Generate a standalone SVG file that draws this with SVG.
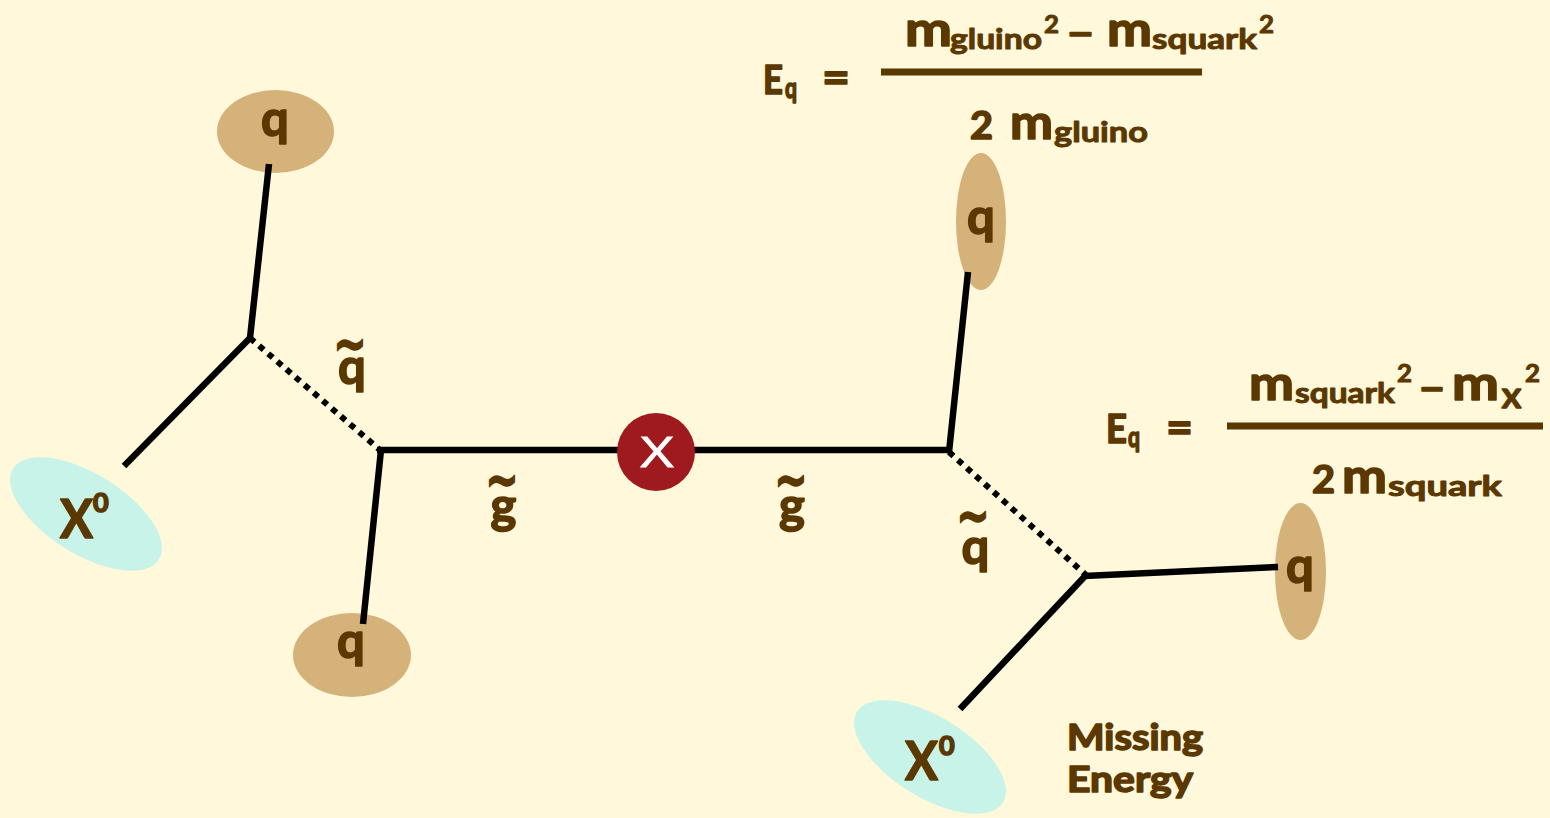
<svg xmlns="http://www.w3.org/2000/svg" width="1550" height="818" viewBox="0 0 1550 818">
<defs>
<style>
.t{font-family:"Lato","Open Sans","Liberation Sans",sans-serif;font-weight:700;fill:#5B3800;stroke:#5B3800;stroke-width:1.6;stroke-linejoin:round}
.q{font-size:49px;text-anchor:middle}
.tl{font-family:"DejaVu Sans","Open Sans",sans-serif;font-size:42px;text-anchor:middle;stroke-width:1.2}
.ln{stroke:#000;stroke-width:6.5;fill:none}
.dot{stroke:#000;stroke-width:6;fill:none;stroke-dasharray:6 6}
.qe{fill:#D4B27A}
.xe{fill:#C8F3E8}
.bar{stroke:#5B3800;stroke-width:7}
.m{font-size:48px}
.sb{font-size:29px;stroke-width:1}
.sp{font-size:25px;stroke-width:1}
</style>
</defs>
<rect x="0" y="0" width="1550" height="818" fill="#FFF8DA"/>

<g id="q1"><ellipse class="qe" cx="275.5" cy="131.5" rx="58.5" ry="41.5"/><text class="t q" x="275" y="136">q</text></g>
<g id="q2"><ellipse class="qe" cx="352" cy="655" rx="59" ry="42"/><text class="t q" x="351" y="658">q</text></g>
<g id="q3"><ellipse class="qe" cx="981" cy="221.5" rx="25" ry="68.5"/><text class="t q" x="981" y="234">q</text></g>
<g id="q4"><ellipse class="qe" cx="1300.5" cy="571.5" rx="25.5" ry="68.5"/><text class="t q" x="1300" y="583">q</text></g>
<g id="x0a"><ellipse class="xe" cx="86" cy="514" rx="86" ry="40" transform="rotate(32 86 514)"/><text class="t" x="60" y="538" font-size="54" stroke-width="1" textLength="33" lengthAdjust="spacingAndGlyphs">X</text><text class="t" x="93" y="512" font-size="27" stroke-width="1">0</text></g>
<g id="x0b"><ellipse class="xe" cx="930" cy="757" rx="86" ry="40" transform="rotate(32 930 757)"/><text class="t" x="905" y="780" font-size="54" stroke-width="1" textLength="33" lengthAdjust="spacingAndGlyphs">X</text><text class="t" x="939" y="755" font-size="27" stroke-width="1">0</text></g>

<g id="connectors">
<line class="ln" x1="269" y1="164" x2="250" y2="338"/>
<line class="ln" x1="250" y1="338" x2="124" y2="466"/>
<line class="dot" x1="250" y1="338" x2="380" y2="450"/>
<line class="ln" x1="377" y1="450" x2="951" y2="450"/>
<line class="ln" x1="381" y1="450" x2="363" y2="624"/>
<line class="ln" x1="968" y1="272" x2="949" y2="452"/>
<line class="dot" x1="949" y1="452" x2="1086" y2="575"/>
<line class="ln" x1="1084" y1="576" x2="1278" y2="567"/>
<line class="ln" x1="1087" y1="574" x2="960" y2="709"/>
</g>

<g id="vertex"><circle cx="656" cy="452" r="39" fill="#9E1A1E"/><text x="657" y="467" font-family="Open Sans, Liberation Sans, sans-serif" font-weight="400" font-size="42" fill="#FFF" stroke="#FFF" stroke-width="0.8" text-anchor="middle" textLength="33" lengthAdjust="spacingAndGlyphs">X</text></g>

<g id="lbl-sq1"><text class="t tl" transform="translate(350 344) scale(0.95 1.3)" y="14">~</text><text class="t q" x="352" y="384">q</text></g>
<g id="lbl-gl1"><text class="t tl" transform="translate(502 480) scale(0.95 1.3)" y="14">~</text><text class="t q" x="503.5" y="523">g</text></g>
<g id="lbl-gl2"><text class="t tl" transform="translate(791 480) scale(0.95 1.3)" y="14">~</text><text class="t q" x="792" y="523">g</text></g>
<g id="lbl-sq2"><text class="t tl" transform="translate(973 516) scale(0.95 1.3)" y="14">~</text><text class="t q" x="975.5" y="564">q</text></g>

<g id="missing"><text class="t" x="1067" y="750" font-size="36" stroke-width="1.2" textLength="136" lengthAdjust="spacingAndGlyphs">Missing</text><text class="t" x="1067" y="792" font-size="36" stroke-width="1.2" textLength="126" lengthAdjust="spacingAndGlyphs">Energy</text></g>

<g id="formula1">
<text class="t" x="763" y="94" font-size="40" textLength="20" lengthAdjust="spacingAndGlyphs">E</text>
<text class="t" x="785" y="98" font-size="28" stroke-width="1" textLength="12" lengthAdjust="spacingAndGlyphs">q</text>
<text class="t" x="822" y="93" font-size="46" textLength="28" lengthAdjust="spacingAndGlyphs">=</text>
<line class="bar" x1="881" y1="72" x2="1202" y2="72"/>
<text class="t m" x="905" y="46" textLength="47" lengthAdjust="spacingAndGlyphs">m</text>
<text class="t sb" x="950" y="49" textLength="92" lengthAdjust="spacingAndGlyphs">gluino</text>
<text class="t sp" x="1044" y="33" textLength="15" lengthAdjust="spacingAndGlyphs">2</text>
<text class="t" x="1066" y="46" font-size="40" textLength="29" lengthAdjust="spacingAndGlyphs">–</text>
<text class="t m" x="1107" y="46" textLength="45" lengthAdjust="spacingAndGlyphs">m</text>
<text class="t sb" x="1152" y="49" textLength="105" lengthAdjust="spacingAndGlyphs">squark</text>
<text class="t sp" x="1259" y="33" textLength="15" lengthAdjust="spacingAndGlyphs">2</text>
<text class="t" x="970" y="139" font-size="38" textLength="23" lengthAdjust="spacingAndGlyphs">2</text>
<text class="t m" x="1010" y="139" textLength="43" lengthAdjust="spacingAndGlyphs">m</text>
<text class="t sb" x="1054" y="142" textLength="94" lengthAdjust="spacingAndGlyphs">gluino</text>
</g>

<g id="formula2">
<text class="t" x="1106" y="443" font-size="40" textLength="21" lengthAdjust="spacingAndGlyphs">E</text>
<text class="t" x="1128" y="447" font-size="28" stroke-width="1" textLength="12" lengthAdjust="spacingAndGlyphs">q</text>
<text class="t" x="1166" y="443" font-size="46" textLength="27" lengthAdjust="spacingAndGlyphs">=</text>
<line class="bar" x1="1227" y1="426" x2="1543" y2="426"/>
<text class="t m" x="1249" y="400" textLength="45" lengthAdjust="spacingAndGlyphs">m</text>
<text class="t sb" x="1295" y="403" textLength="100" lengthAdjust="spacingAndGlyphs">squark</text>
<text class="t sp" x="1397" y="382" textLength="15" lengthAdjust="spacingAndGlyphs">2</text>
<text class="t" x="1418" y="401" font-size="40" textLength="28" lengthAdjust="spacingAndGlyphs">–</text>
<text class="t m" x="1452" y="400" textLength="47" lengthAdjust="spacingAndGlyphs">m</text>
<text class="t" x="1502" y="408" font-size="26" stroke-width="0.5" textLength="19" lengthAdjust="spacingAndGlyphs">X</text>
<text class="t sp" x="1525" y="382" textLength="15" lengthAdjust="spacingAndGlyphs">2</text>
<text class="t" x="1312" y="493" font-size="38" textLength="23" lengthAdjust="spacingAndGlyphs">2</text>
<text class="t m" x="1342" y="493" textLength="45" lengthAdjust="spacingAndGlyphs">m</text>
<text class="t sb" x="1388" y="496" textLength="114" lengthAdjust="spacingAndGlyphs">squark</text>
</g>
</svg>
